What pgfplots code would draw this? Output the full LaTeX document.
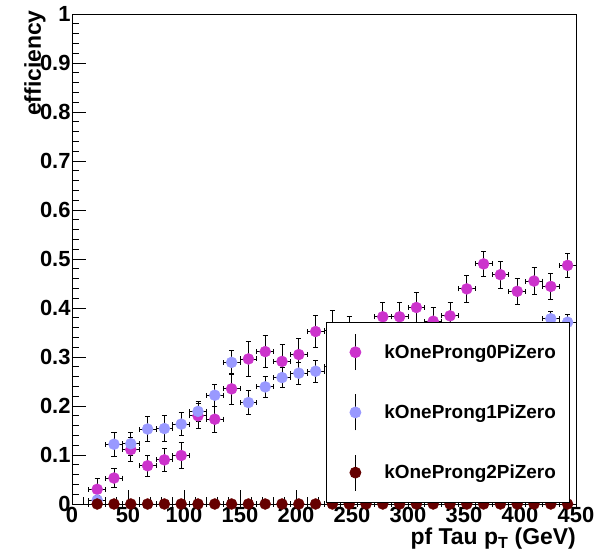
\documentclass[border=0pt]{standalone}
\usepackage{fontspec}
\setmainfont{Liberation Sans}
\usepackage{pgfplots}
\usepackage{pgfplotstable}
\pgfplotsset{compat=1.18}
\definecolor{cmag}{RGB}{204,51,204}
\definecolor{cblue}{RGB}{153,153,255}
\definecolor{cdred}{RGB}{102,0,0}

\pgfplotstableread{
x ex y ey
22.5 7.5 0.030 0.022
37.5 7.5 0.053 0.020
52.5 7.5 0.111 0.025
67.5 7.5 0.078 0.022
82.5 7.5 0.090 0.024
97.5 7.5 0.099 0.026
112.5 7.5 0.180 0.025
127.5 7.5 0.173 0.027
142.5 7.5 0.235 0.032
157.5 7.5 0.296 0.035
172.5 7.5 0.311 0.033
187.5 7.5 0.291 0.034
202.5 7.5 0.305 0.032
217.5 7.5 0.352 0.032
232.5 7.5 0.355 0.040
247.5 7.5 0.345 0.037
262.5 7.5 0.330 0.035
277.5 7.5 0.382 0.030
292.5 7.5 0.382 0.030
307.5 7.5 0.401 0.031
322.5 7.5 0.373 0.029
337.5 7.5 0.384 0.028
352.5 7.5 0.439 0.028
367.5 7.5 0.490 0.026
382.5 7.5 0.468 0.027
397.5 7.5 0.434 0.027
412.5 7.5 0.455 0.027
427.5 7.5 0.444 0.027
442.5 7.5 0.487 0.024
}\magtab

\pgfplotstableread{
x ex y ey
22.5 7.5 0.008 0.010
37.5 7.5 0.122 0.024
52.5 7.5 0.123 0.024
67.5 7.5 0.153 0.025
82.5 7.5 0.154 0.026
97.5 7.5 0.163 0.024
112.5 7.5 0.189 0.020
127.5 7.5 0.222 0.022
142.5 7.5 0.289 0.024
157.5 7.5 0.207 0.024
172.5 7.5 0.239 0.022
187.5 7.5 0.258 0.020
202.5 7.5 0.267 0.022
217.5 7.5 0.271 0.022
232.5 7.5 0.280 0.022
247.5 7.5 0.290 0.022
262.5 7.5 0.300 0.023
277.5 7.5 0.310 0.023
292.5 7.5 0.300 0.023
307.5 7.5 0.320 0.024
322.5 7.5 0.310 0.024
337.5 7.5 0.330 0.024
352.5 7.5 0.320 0.024
367.5 7.5 0.340 0.024
382.5 7.5 0.330 0.024
397.5 7.5 0.340 0.024
412.5 7.5 0.330 0.024
427.5 7.5 0.378 0.016
442.5 7.5 0.371 0.016
}\bluetab

\pgfplotstableread{
x ex y ey
22.5 7.5 0 0
37.5 7.5 0 0
52.5 7.5 0 0
67.5 7.5 0 0
82.5 7.5 0 0
97.5 7.5 0 0
112.5 7.5 0 0
127.5 7.5 0 0
142.5 7.5 0 0
157.5 7.5 0 0
172.5 7.5 0 0
187.5 7.5 0 0
202.5 7.5 0 0
217.5 7.5 0 0
232.5 7.5 0 0
247.5 7.5 0 0
262.5 7.5 0 0
277.5 7.5 0 0
292.5 7.5 0 0
307.5 7.5 0 0
322.5 7.5 0 0
337.5 7.5 0 0
352.5 7.5 0 0
367.5 7.5 0 0
382.5 7.5 0 0
397.5 7.5 0 0
412.5 7.5 0 0
427.5 7.5 0 0
442.5 7.5 0 0
}\redtab

\pgfplotsset{
  errplot/.style={draw=none, mark=none, forget plot,
    error bars/.cd, x dir=both, x explicit, y dir=both, y explicit,
    error bar style={draw=black, line width=0.8bp},
    error mark options={draw=black, line width=0.8bp, mark size=2.5bp, rotate=90}},
}

\begin{document}
\begin{tikzpicture}
\useasboundingbox (0,0) rectangle (604bp,556bp);
\begin{axis}[
  at={(72bp,52bp)}, anchor=south west,
  width=504bp, height=490bp, scale only axis,
  xmin=0, xmax=450, ymin=0, ymax=1,
  xtick={0,50,100,150,200,250,300,350,400,450},
  ytick={0,0.1,0.2,0.3,0.4,0.5,0.6,0.7,0.8,0.9,1},
  minor x tick num=4, minor y tick num=4,
  tick pos=left, tick align=inside,
  major tick length=14bp, minor tick length=7bp,
  every tick/.style={black, line width=0.8bp},
  axis line style={black, line width=0.8bp},
  clip=false,
  /pgf/number format/assume math mode=true,
  ticklabel style={font=\fontsize{22}{22}\selectfont\bfseries},
  yticklabel style={xshift=2bp},
  xlabel={pf Tau p\textsubscript{T} (GeV)},
  ylabel={efficiency},
  xlabel style={at={(axis description cs:1,-0.049)}, anchor=north east, inner sep=0pt, font=\fontsize{23}{23}\selectfont\bfseries},
  ylabel style={at={(axis description cs:-0.0734,1.008)}, anchor=east, inner sep=0pt, font=\fontsize{23}{23}\selectfont\bfseries},
  legend style={at={(axis description cs:0.504,0.372)}, anchor=north west,
    draw=black, line width=0.8bp, fill=white, inner sep=0pt,
    row sep=0pt, column sep=0pt,
    font=\fontsize{19}{19}\selectfont\bfseries, nodes={inner sep=0pt, draw=none}},
  legend cell align=left,
  legend image code/.code={
    \path[draw=none, fill=none] (0bp,-30.1bp) rectangle (58bp,30.1bp);
    \draw[black, line width=0.8bp] (29bp,-18bp) -- (29bp,18bp);
    \draw[#1] plot coordinates {(29bp,0bp)};
  },
]
\addplot[errplot] table[x=x, y=y, x error=ex, y error=ey] {\magtab};
\addplot[color=cmag, only marks, mark=*, mark size=5.5bp, mark options={draw=none, fill=cmag}] table[x=x, y=y] {\magtab};
\addlegendentry{kOneProng0PiZero\rule{14bp}{0pt}}
\addplot[errplot] table[x=x, y=y, x error=ex, y error=ey] {\bluetab};
\addplot[color=cblue, only marks, mark=*, mark size=5.5bp, mark options={draw=none, fill=cblue}] table[x=x, y=y] {\bluetab};
\addlegendentry{kOneProng1PiZero\rule{14bp}{0pt}}
\addplot[errplot] table[x=x, y=y, x error=ex, y error=ey] {\redtab};
\addplot[color=cdred, only marks, mark=*, mark size=5.5bp, mark options={draw=none, fill=cdred}] table[x=x, y=y] {\redtab};
\addlegendentry{kOneProng2PiZero\rule{14bp}{0pt}}
\end{axis}
\end{tikzpicture}
\end{document}
